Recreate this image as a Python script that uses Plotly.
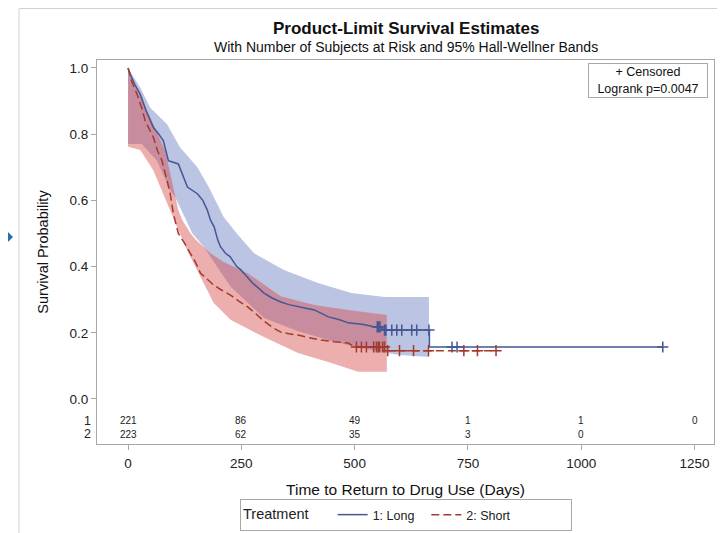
import plotly.graph_objects as go

# ---------------- data ----------------
# Kaplan-Meier estimate, group 1: Long
t_long = [0, 5, 15, 27, 40, 56, 68, 78, 89, 111, 131, 153, 165, 175, 182, 190, 198, 204,
          215, 225, 240, 249, 262, 275, 288, 300, 318, 337, 355, 370, 390, 411, 442, 465,
          486, 520, 542, 556, 566, 665, 665, 1180]
s_long = [1.0, 0.98, 0.95, 0.92, 0.87, 0.82, 0.80, 0.78, 0.72, 0.71, 0.64, 0.62, 0.60, 0.57,
          0.54, 0.52, 0.48, 0.46, 0.44, 0.43, 0.40, 0.39, 0.37, 0.35, 0.335, 0.32, 0.305,
          0.293, 0.285, 0.28, 0.275, 0.269, 0.248, 0.24, 0.23, 0.225, 0.218, 0.218, 0.208,
          0.208, 0.157, 0.157]

# group 2: Short
t_short = [0, 8, 20, 30, 38, 48, 56, 65, 75, 86, 93, 100, 111, 125, 138, 150, 160, 175, 189,
           205, 226, 245, 264, 280, 300, 320, 337, 355, 375, 400, 426, 455, 486, 500, 571,
           571, 812]
s_short = [1.0, 0.96, 0.92, 0.88, 0.84, 0.81, 0.79, 0.75, 0.72, 0.66, 0.62, 0.56, 0.50, 0.47,
           0.44, 0.41, 0.38, 0.36, 0.344, 0.33, 0.314, 0.295, 0.278, 0.26, 0.235, 0.215,
           0.202, 0.197, 0.193, 0.185, 0.178, 0.173, 0.169, 0.157, 0.157, 0.146, 0.146]

# censored observations
cens_long_t = [550, 553, 556, 566, 569, 582, 593, 604, 626, 637, 664, 715, 726, 1180]
cens_long_s = [0.218, 0.218, 0.218, 0.208, 0.208, 0.208, 0.208, 0.208, 0.208, 0.208, 0.208,
               0.157, 0.157, 0.157]
cens_short_t = [504, 515, 526, 542, 548, 552, 555, 562, 566, 573, 599, 630, 663, 741, 771, 812]
cens_short_s = [0.157, 0.157, 0.157, 0.157, 0.157, 0.157, 0.157, 0.157, 0.157,
                0.146, 0.146, 0.146, 0.146, 0.146, 0.146, 0.146]

# 95% Hall-Wellner bands
band_long_up_t = [0, 27, 49, 86, 115, 153, 178, 211, 240, 278, 344, 419, 493, 566, 664]
band_long_up = [1.0, 0.94, 0.88, 0.83, 0.76, 0.70, 0.64, 0.55, 0.50, 0.44, 0.39, 0.35, 0.32,
                0.308, 0.308]
band_long_lo_t = [0, 30, 64, 93, 104, 122, 142, 167, 182, 226, 300, 374, 449, 500, 571, 600, 664]
band_long_lo = [0.77, 0.77, 0.72, 0.63, 0.61, 0.56, 0.50, 0.46, 0.43, 0.34, 0.245, 0.205,
                0.175, 0.158, 0.139, 0.133, 0.127]

band_short_up_t = [0, 27, 56, 82, 100, 111, 120, 138, 150, 182, 211, 264, 337, 411, 486, 571]
band_short_up = [1.0, 0.92, 0.83, 0.75, 0.64, 0.57, 0.54, 0.50, 0.48, 0.44, 0.414, 0.38, 0.31,
                 0.284, 0.269, 0.254]
band_short_lo_t = [0, 27, 56, 78, 93, 108, 130, 153, 189, 226, 300, 375, 449, 508, 571]
band_short_lo = [0.762, 0.752, 0.69, 0.62, 0.57, 0.52, 0.45, 0.39, 0.29, 0.239, 0.187, 0.139,
                 0.109, 0.082, 0.082]

# number at risk
risk_times = [0, 250, 500, 750, 1000, 1250]
risk_long = ["221", "86", "49", "1", "1", "0"]
risk_short = ["223", "62", "35", "3", "0", ""]

x_ticks = [0, 250, 500, 750, 1000, 1250]
y_ticks = [0.0, 0.2, 0.4, 0.6, 0.8, 1.0]

# ---------------- style ----------------
FONT = "Liberation Sans, Arial, sans-serif"
BLUE = "#445694"
RED = "#A23A2E"
FRAME = "#a8a8a8"
W, H = 725, 533
OFF = 8  # page body margin offset (screen = figure + OFF)
# plot frame in screen pixels: x 97..714, y 60..444
L, T = 97 - OFF, 60 - OFF
pw, ph = 617, 384
R, B = W - L - pw, H - T - ph


def sx(px):  # screen px -> paper x
    return (px - OFF - L) / pw


def sy(py):  # screen px -> paper y
    return (T + ph - (py - OFF)) / ph


fig = go.Figure()

# bands (blue first, red on top)
fig.add_trace(go.Scatter(
    x=band_long_up_t + band_long_lo_t[::-1], y=band_long_up + band_long_lo[::-1],
    fill="toself", fillcolor="rgba(104,125,190,0.45)", line=dict(width=0),
    mode="lines", hoverinfo="skip", showlegend=False))
fig.add_trace(go.Scatter(
    x=band_short_up_t + band_short_lo_t[::-1], y=band_short_up + band_short_lo[::-1],
    fill="toself", fillcolor="rgba(215,75,75,0.45)", line=dict(width=0),
    mode="lines", hoverinfo="skip", showlegend=False))

# survival curves
fig.add_trace(go.Scatter(
    x=t_long, y=s_long, mode="lines", line=dict(color=BLUE, width=1.5),
    name="1: Long  "))
fig.add_trace(go.Scatter(
    x=t_short, y=s_short, mode="lines",
    line=dict(color=RED, width=1.5, dash="8px,4px"),
    name="2: Short                "))

# censored marks
fig.add_trace(go.Scatter(
    x=cens_long_t, y=cens_long_s, mode="markers",
    marker=dict(symbol="cross-thin-open", size=8, color=BLUE, line=dict(color=BLUE, width=1.5)),
    showlegend=False, hoverinfo="skip"))
fig.add_trace(go.Scatter(
    x=cens_short_t, y=cens_short_s, mode="markers",
    marker=dict(symbol="cross-thin-open", size=8, color=RED, line=dict(color=RED, width=1.5)),
    showlegend=False, hoverinfo="skip"))

annotations = []
# at-risk table
for t, a, b in zip(risk_times, risk_long, risk_short):
    annotations.append(dict(x=t, y=-0.0665, xref="x", yref="y", text=a, showarrow=False,
                            height=11, font=dict(family=FONT, size=10, color="#222")))
    if b:
        annotations.append(dict(x=t, y=-0.107, xref="x", yref="y", text=b, showarrow=False,
                                height=11, font=dict(family=FONT, size=10, color="#222")))
for lab, yv in (("1", -0.0665), ("2", -0.107)):
    annotations.append(dict(x=sx(93), y=yv, xref="paper", yref="y", text=lab,
                            showarrow=False, xanchor="right", height=12,
                            font=dict(family=FONT, size=12.5, color="#222")))

# titles
annotations.append(dict(x=sx(406), y=sy(29), xref="paper", yref="paper",
                        xanchor="center", yanchor="middle",
                        text="<b>Product-Limit Survival Estimates</b>", showarrow=False,
                        font=dict(family=FONT, size=17, color="#111")))
annotations.append(dict(x=sx(406), y=sy(47), xref="paper", yref="paper",
                        xanchor="center", yanchor="middle",
                        text="With Number of Subjects at Risk and 95% Hall-Wellner Bands",
                        showarrow=False, font=dict(family=FONT, size=14, color="#111")))

# inset legend
annotations.append(dict(x=sx(648), y=sy(80.5), xref="paper", yref="paper",
                        xanchor="center", yanchor="middle",
                        text="+ Censored<br>Logrank p=0.0047", showarrow=False,
                        width=116, height=31, borderpad=1, bordercolor=FRAME, borderwidth=1,
                        bgcolor="white", align="center",
                        font=dict(family=FONT, size=12.5, color="#111")))

shapes = [
    # outer border of the picture
    dict(type="rect", xref="paper", yref="paper",
         x0=sx(19), x1=sx(721), y0=sy(560), y1=sy(8.5),
         line=dict(color="#d0d0d0", width=1), layer="below"),
    # small arrow marker at left edge
    dict(type="path", xref="paper", yref="paper",
         path="M {:.5f},{:.5f} L {:.5f},{:.5f} L {:.5f},{:.5f} Z".format(
             sx(8), sy(232), sx(13), sy(237), sx(8), sy(242)),
         fillcolor="#2a6fb5", line=dict(width=0)),
]

fig.update_layout(
    width=W, height=H,
    margin=dict(l=L, r=R, t=T, b=B, autoexpand=False),
    paper_bgcolor="white", plot_bgcolor="white",
    font=dict(family=FONT, size=13, color="#222"),
    annotations=annotations, shapes=shapes,
    showlegend=True,
    legend=dict(orientation="h", x=sx(240), xanchor="left",
                y=sy(499), yanchor="top",
                title=dict(text="Treatment    ", font=dict(family=FONT, size=14.5)),
                bordercolor=FRAME, borderwidth=1, bgcolor="white",
                font=dict(family=FONT, size=12.5), itemwidth=30, tracegroupgap=0),
    xaxis=dict(range=[-68.5, 1293], tickvals=x_ticks, ticks="outside", ticklen=5,
               tickcolor=FRAME, showline=True, linecolor=FRAME, mirror=True,
               showgrid=False, zeroline=False, ticklabelstandoff=2,
               tickfont=dict(family=FONT, size=13.5, color="#222"),
               title=dict(text="Time to Return to Drug Use (Days)", standoff=13,
                          font=dict(family=FONT, size=15.5, color="#111"))),
    yaxis=dict(range=[-0.136, 1.024], tickvals=y_ticks, tickformat=".1f", ticks="outside",
               ticklen=5, tickcolor=FRAME, showline=True, linecolor=FRAME, mirror=True,
               showgrid=False, zeroline=False,
               tickfont=dict(family=FONT, size=13.5, color="#222"),
               title=dict(text="Survival Probability", standoff=17,
                          font=dict(family=FONT, size=14.5, color="#111"))),
)

fig.write_html("out.html")
